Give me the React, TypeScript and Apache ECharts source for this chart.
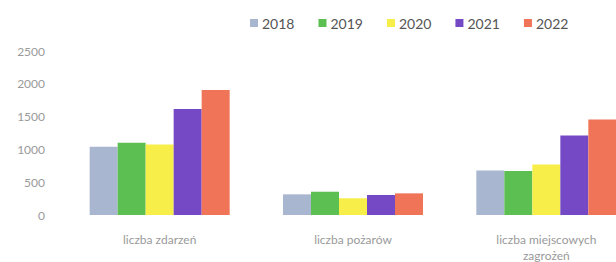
import React, { useEffect, useRef } from "react";
import * as echarts from "echarts";

const categories = ["liczba zdarzeń", "liczba pożarów", "liczba miejscowych\nzagrożeń"];
const years = ["2018", "2019", "2020", "2021", "2022"];
const v2018 = [1040, 315, 680];
const v2019 = [1100, 355, 672];
const v2020 = [1075, 255, 770];
const v2021 = [1615, 305, 1210];
const v2022 = [1905, 330, 1455];
const yTicks = [0, 500, 1000, 1500, 2000, 2500];

const seriesValues = [v2018, v2019, v2020, v2021, v2022];
const colors = ["#a9b6d0", "#5cbf52", "#f8ee4a", "#7549c6", "#f07458"];

export default function App() {
  const ref = useRef<HTMLDivElement>(null);
  useEffect(() => {
    if (!ref.current) return;
    const chart = echarts.init(ref.current, undefined, { renderer: "svg" });
    chart.setOption({
      animation: false,
      backgroundColor: "#ffffff",
      textStyle: { fontFamily: "Lato, 'Noto Sans', sans-serif" },
      legend: {
        data: years,
        left: 245,
        top: 11,
        itemWidth: 8,
        itemHeight: 8,
        itemGap: 24,
        icon: "rect",
        textStyle: { fontSize: 14, color: "#555555", fontFamily: "Lato, sans-serif", padding: [0, 0, 0, -1] },
      },
      grid: { left: 63, top: 51, right: -27, bottom: 47, containLabel: false, outerBoundsMode: "none" },
      xAxis: {
        type: "category",
        data: categories,
        axisLine: { show: false },
        axisTick: { show: false },
        axisLabel: { color: "#9a9a9a", fontSize: 12, margin: 16, lineHeight: 16 },
      },
      yAxis: {
        type: "value",
        min: yTicks[0],
        max: yTicks[yTicks.length - 1],
        interval: 500,
        splitLine: { show: false },
        axisLine: { show: false },
        axisTick: { show: false },
        axisLabel: { color: "#9a9a9a", fontSize: 12, margin: 18, formatter: (v: number) => String(v) },
      },
      series: years.map((y, i) => ({
        name: y,
        type: "bar",
        data: seriesValues[i],
        barWidth: 28,
        barGap: "0%",
        itemStyle: { color: colors[i] },
      })),
    });
    return () => chart.dispose();
  }, []);
  return <div ref={ref} style={{ width: 616, height: 262, position: "fixed", left: 0, top: 0 }} />;
}
